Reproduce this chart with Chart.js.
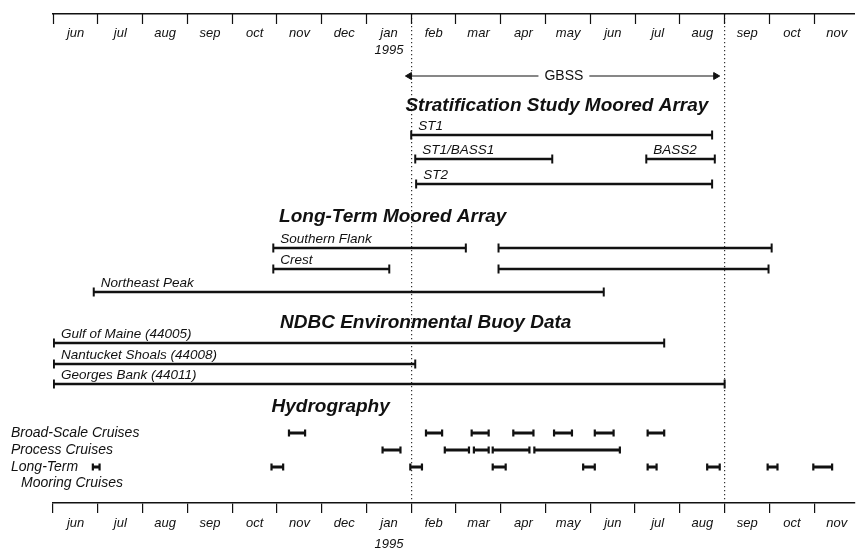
<!DOCTYPE html>
<html>
<head>
<meta charset="utf-8">
<script src="https://cdn.jsdelivr.net/npm/chart.js@4"></script>
<style>
  body { margin: 0; background: #fff; }
</style>
</head>
<body>
<canvas id="timeline" width="861" height="550"></canvas>
<script>
// months counted from 1 Jun 1994 (0) to Dec 1995
const monthLabels = ['jun', 'jul', 'aug', 'sep', 'oct', 'nov', 'dec', ['jan', '1995'],
    'feb', 'mar', 'apr', 'may', 'jun', 'jul', 'aug', 'sep', 'oct', 'nov'];
const studyBounds = [8, 15]; // dotted lines, 1 Feb and 1 Sep 1995

const gbssSpan = [7.96, 14.80];
const gbssLabelAt = 11.41;
const gbssLane = 6.2;

const sectionTitles = ['Stratification Study Moored Array', 'Long-Term Moored Array',
    'NDBC Environmental Buoy Data', 'Hydrography'];
const sectionStart = [7.87, 5.05, 5.07, 4.88];
const sectionLane = [9.2, 20.3, 30.9, 39.3];

const barNames = ['ST1', 'ST1/BASS1', 'BASS2', 'ST2', 'Southern Flank', '', 'Crest', '',
    'Northeast Peak', 'Gulf of Maine (44005)', 'Nantucket Shoals (44008)', 'Georges Bank (44011)'];
const barStart = [8.00, 8.09, 13.25, 8.11, 4.92, 9.95, 4.92, 9.95, 0.91, 0.02, 0.02, 0.02];
const barEnd = [14.72, 11.15, 14.78, 14.72, 9.22, 16.05, 7.51, 15.98, 12.30, 13.65, 8.09, 15.00];
const barLane = [12.1, 14.5, 14.5, 17.0, 23.4, 23.4, 25.5, 25.5, 27.8, 32.9, 35.0, 37.0];

const cruiseRows = ['Broad-Scale Cruises', 'Process Cruises', 'Long-Term'];
const cruiseLane = [41.9, 43.6, 45.3];
const broadScaleCruises = [[5.27, 5.63], [8.33, 8.69], [9.35, 9.73], [10.28, 10.73],
    [11.19, 11.59], [12.10, 12.52], [13.28, 13.65]];
const processCruises = [[7.36, 7.76], [8.75, 9.29], [9.40, 9.73], [9.82, 10.64], [10.75, 12.66]];
const mooringCruises = [[0.89, 1.04], [4.88, 5.14], [7.98, 8.24], [9.82, 10.11], [11.84, 12.10],
    [13.28, 13.48], [14.61, 14.89], [15.96, 16.18], [16.98, 17.40]];

const ink = '#111';
const family = '"Liberation Sans", Arial, Helvetica, sans-serif';

document.addEventListener('DOMContentLoaded', function () {
    const bars = barStart.map((s, i) => ({ x: [s, barEnd[i]], y: barLane[i] }));
    const barCaps = [];
    bars.forEach(b => { barCaps.push({ x: b.x[0], y: b.y }, { x: b.x[1], y: b.y }); });

    const cruises = [];
    [broadScaleCruises, processCruises, mooringCruises].forEach((row, r) => {
        row.forEach(c => cruises.push({ x: [c[0], c[1]], y: cruiseLane[r] }));
    });
    const cruiseCaps = [];
    cruises.forEach(c => { cruiseCaps.push({ x: c.x[0], y: c.y }, { x: c.x[1], y: c.y }); });

    const monthTicks = scale => { scale.ticks = monthLabels.map((_, i) => ({ value: i })); };

    const annotations = {
        id: 'annotations',
        afterDatasetsDraw(chart) {
            const { ctx, scales: { x, y } } = chart;
            ctx.save();
            ctx.fillStyle = ink;
            ctx.textBaseline = 'middle';

            // GBSS label over its arrow
            ctx.font = '14px ' + family;
            const gx = x.getPixelForValue(gbssLabelAt);
            const gy = y.getPixelForValue(gbssLane);
            const gw = ctx.measureText('GBSS').width;
            ctx.fillStyle = '#fff';
            ctx.fillRect(gx - gw / 2 - 6, gy - 8, gw + 12, 16);
            ctx.fillStyle = ink;
            ctx.textAlign = 'center';
            ctx.fillText('GBSS', gx, gy);

            ctx.textAlign = 'left';
            ctx.font = 'italic bold 19px ' + family;
            sectionTitles.forEach((t, i) => {
                ctx.fillText(t, x.getPixelForValue(sectionStart[i]), y.getPixelForValue(sectionLane[i]));
            });

            ctx.font = 'italic 13.5px ' + family;
            barNames.forEach((n, i) => {
                if (!n) return;
                ctx.fillText(n, x.getPixelForValue(barStart[i]) + 7, y.getPixelForValue(barLane[i]) - 9);
            });

            ctx.font = 'italic 14px ' + family;
            cruiseRows.forEach((n, i) => {
                ctx.fillText(n, 11, y.getPixelForValue(cruiseLane[i]));
            });
            ctx.fillText('Mooring Cruises', 21, y.getPixelForValue(cruiseLane[2]) + 16);
            ctx.restore();
        }
    };

    new Chart(document.getElementById('timeline'), {
        type: 'scatter',
        data: {
            datasets: [
                {
                    type: 'bar', indexAxis: 'y', grouped: false,
                    data: bars, barThickness: 2, backgroundColor: ink
                },
                {
                    type: 'bar', indexAxis: 'y', grouped: false,
                    data: cruises, barThickness: 2.2, backgroundColor: ink
                },
                {
                    data: barCaps, pointStyle: 'line', rotation: 90,
                    radius: 4.5, borderWidth: 2, borderColor: ink
                },
                {
                    data: cruiseCaps, pointStyle: 'line', rotation: 90,
                    radius: 3.5, borderWidth: 2.2, borderColor: ink
                },
                {
                    type: 'line',
                    data: [{ x: gbssSpan[0], y: gbssLane }, { x: gbssSpan[1], y: gbssLane }],
                    borderColor: ink, borderWidth: 1.2, pointRadius: 0
                },
                {
                    data: [{ x: gbssSpan[0], y: gbssLane }, { x: gbssSpan[1], y: gbssLane }],
                    pointStyle: 'triangle', rotation: [-90, 90], radius: 4,
                    backgroundColor: ink, borderColor: ink, borderWidth: 1
                }
            ]
        },
        options: {
            responsive: false,
            animation: false,
            events: [],
            layout: { padding: { left: 53, right: 0, top: 0, bottom: 0 } },
            plugins: { legend: { display: false }, tooltip: { enabled: false } },
            scales: {
                x: {
                    type: 'linear', position: 'bottom', min: 0, max: 17.9, offset: false,
                    afterBuildTicks: monthTicks,
                    afterFit: scale => { scale.height = 47; },
                    grid: {
                        drawOnChartArea: true, offset: false,
                        color: c => (c.tick && studyBounds.includes(c.tick.value)) ? '#333' : 'rgba(0,0,0,0)',
                        lineWidth: 1.2,
                        tickLength: 10, tickColor: ink, tickWidth: 1.2, tickBorderDash: []
                    },
                    border: { display: true, color: ink, width: 1.5, dash: [1.2, 2.8] },
                    ticks: {
                        autoSkip: false, maxRotation: 0, padding: 0, labelOffset: 22.56,
                        color: ink, font: { family: family, size: 13, style: 'italic', lineHeight: 1.59 },
                        callback: (v, i) => monthLabels[i]
                    }
                },
                xTop: {
                    type: 'linear', position: 'top', min: 0, max: 17.9, offset: false,
                    afterBuildTicks: monthTicks,
                    afterFit: scale => { scale.height = 14; },
                    grid: {
                        drawOnChartArea: false,
                        tickLength: -10, tickColor: ink, tickWidth: 1.2, tickBorderDash: []
                    },
                    border: { display: true, color: ink, width: 1.5 },
                    ticks: {
                        autoSkip: false, maxRotation: 0, mirror: true, crossAlign: 'far',
                        padding: -6.8, labelOffset: 22.56,
                        color: ink, font: { family: family, size: 13, style: 'italic', lineHeight: 1.34 },
                        callback: (v, i) => monthLabels[i]
                    }
                },
                y: {
                    type: 'linear', display: false, reverse: true, min: 0, max: 48.9,
                    offset: false, grid: { offset: false }
                }
            }
        },
        plugins: [annotations]
    });
});
</script>
</body>
</html>
